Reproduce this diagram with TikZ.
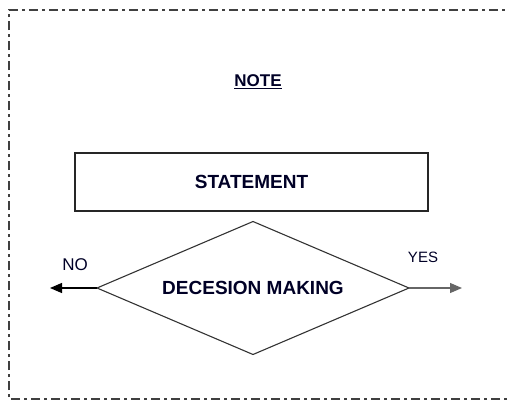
\documentclass[tikz,border=0pt]{standalone}
\usepackage{fontspec}
\setmainfont{Liberation Sans}
\usetikzlibrary{shapes.geometric,arrows.meta}
\tikzset{
  x=1pt, y=1pt,
  frameline/.style={draw=black!75, line width=1.3pt, dash pattern=on 9pt off 4pt on 3pt off 4pt},
  boxnode/.style={draw=black!85, line width=1.4pt, minimum width=353pt, minimum height=58pt, inner sep=0pt},
  decnode/.style={diamond, shape aspect=2.346, draw=black!80, line width=1.1pt, minimum width=312pt, minimum height=133pt, inner sep=0pt, outer sep=0pt},
  btxt/.style={font=\fontsize{19}{22}\selectfont\bfseries, text=black!85!blue},
  notetxt/.style={font=\fontsize{17}{20}\selectfont\bfseries, text=black!85!blue},
  ltxt/.style={font=\fontsize{#1}{19}\selectfont, text=black!85!blue},
  arr/.style={-{Triangle[length=12pt,width=10pt]}, line width=1.2pt}
}
\begin{document}
\begin{tikzpicture}
\useasboundingbox (0,0) rectangle (508,400);
\draw[frameline] (520,1) -- (9,1) -- (9,390) -- (520,390);
\node[notetxt] (note) at (258,318) {\underline{NOTE}};
\node[boxnode, btxt] (stmt) at (251.5,218) {STATEMENT};
\node[decnode, btxt] (dec) at (253,112) {DECESION MAKING};
\coordinate (noend) at (50,112);
\coordinate (yesend) at (462,112);
\draw[arr, black] (dec.west) -- (noend);
\draw[arr, black!60] (dec.east) -- (yesend);
\node[ltxt=17] (no) at (75,135) {NO};
\node[ltxt=15] (yes) at (423,143) {YES};
\end{tikzpicture}
\end{document}
